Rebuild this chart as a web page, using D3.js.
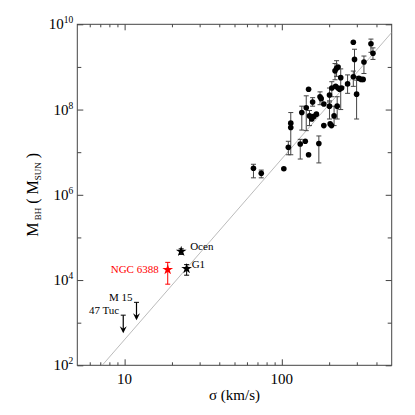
<!DOCTYPE html>
<html>
<head>
<meta charset="utf-8">
<script src="https://cdn.jsdelivr.net/npm/d3@7"></script>
<style>
  body { margin: 0; background: #fff; }
</style>
</head>
<body>
<div id="chart"></div>
<script>
// galaxies: sigma (km/s), black hole mass (Msun), error bar low / high (null = none)
var galSigma = [66, 74, 103, 110, 114, 114, 131, 141, 148, 148, 134, 143, 150, 155, 160, 166, 157, 172, 175, 178,
    185, 185, 201, 201, 203, 207, 215, 208, 218, 223, 228, 220, 225, 228, 237, 233, 240, 262, 285, 290,
    285, 299, 309, 320, 329, 333, 369, 380];
var galMass = [4.2e6, 3.2e6, 4.1e6, 1.3e7, 4.8e7, 3.8e7, 1.55e7, 1.8e7, 8.7e6, 3.0e8, 8.5e7, 1.1e8, 7.1e7, 6.0e7, 6.9e7, 7.8e7, 1.5e8, 1.6e7, 2.0e8, 1.8e8,
    1.35e8, 4.2e7, 2.2e8, 1.2e8, 4.6e7, 4.2e7, 7.1e7, 3.2e8, 8.1e8, 9.3e8, 1.0e9, 3.5e8, 1.2e8, 3.2e8, 5.6e8, 3.0e8, 3.2e8, 4.0e8, 3.8e9, 1.5e9,
    5.9e8, 2.3e8, 5.4e8, 5.1e8, 5.1e8, 1.3e9, 3.5e9, 2.1e9];
var galErrLo = [2.5e6, 2.5e6, null, 8.7e6, 8.7e6, null, 6.9e6, null, null, null, 3.3e7, 3.2e7, 4.2e7, null, null, null, 1.2e8, 5.6e6, 1.3e8, null,
    null, null, 1.5e8, 6e7, null, null, 4.2e7, 2e8, 5e8, 6e8, null, null, 6e7, null, 1e8, null, null, 2.4e8, null, 6e8,
    3.5e8, 6e7, null, null, null, 7e8, 2.2e9, 1.5e9];
var galErrHi = [5.2e6, 3.8e6, null, 1.8e7, 8.5e7, null, 2.0e7, null, null, null, 1.2e8, 2.1e8, 9.5e7, null, null, null, 1.9e8, 2.4e7, 2.6e8, null,
    null, null, 3.2e8, 1.6e8, null, null, 1.2e8, 4.5e8, 1.2e9, 1.4e9, null, null, 2e8, null, 9e8, null, null, 6.5e8, null, 2.6e9,
    8e8, 4.9e8, null, null, null, 1.8e9, 4.5e9, 2.8e9];

// globular clusters shown as stars
var gcNames = ["Ocen", "G1", "NGC 6388"];
var gcSigma = [22.9, 24.8, 18.8];
var gcMass = [4.7e4, 1.85e4, 1.75e4];
var gcErrLo = [4.0e4, 1.3e4, 8.0e3];
var gcErrHi = [5.4e4, 2.3e4, 2.6e4];
var gcColor = ["black", "black", "red"];

// upper limits
var limNames = ["M 15", "47 Tuc"];
var limSigma = [11.9, 9.8];
var limMass = [3.0e3, 1.5e3];

// M-sigma fit: log M = a + b log(sigma/200)
var fitA = 8.12, fitB = 4.24;
var fitSigma = [5, 500];

var xMajor = [10, 100];
var xMinor = [6, 7, 8, 9, 20, 30, 40, 50, 60, 70, 80, 90, 200, 300, 400];
var yMajor = [1e2, 1e4, 1e6, 1e8, 1e10];
var yMinor = [1e3, 1e5, 1e7, 1e9];

var FONT = "'Liberation Serif', 'DejaVu Serif', serif";

var W = 415, H = 415;
var margin = { top: 24.3, right: 23.3, bottom: 49.7, left: 77.3 };
var width = W - margin.left - margin.right,
    height = H - margin.top - margin.bottom;

var svg = d3.select("#chart").append("svg")
    .attr("width", W)
    .attr("height", H)
    .attr("font-family", FONT)
    .style("font-family", FONT);

var defs = svg.append("defs");
defs.append("clipPath").attr("id", "clip")
    .append("rect").attr("width", width).attr("height", height);

var g = svg.append("g")
    .attr("transform", "translate(" + margin.left + "," + margin.top + ")");

var x = d3.scaleLog().domain([5, 500]).range([0, width]);
var y = d3.scaleLog().domain([1e2, 1e10]).range([height, 0]);

// ticks on all four sides, pointing in
function tickAxis(axis, vals, len) {
    return axis.tickValues(vals).tickSize(len).tickFormat("");
}
var axStroke = "#444";

g.append("g").attr("transform", "translate(0," + height + ")")
    .call(tickAxis(d3.axisBottom(x), xMajor, -6));
g.append("g").attr("transform", "translate(0," + height + ")")
    .call(tickAxis(d3.axisBottom(x), xMinor, -3));
g.append("g").call(tickAxis(d3.axisTop(x), xMajor, -6));
g.append("g").call(tickAxis(d3.axisTop(x), xMinor, -3));
g.append("g").call(tickAxis(d3.axisLeft(y), yMajor, -6));
g.append("g").call(tickAxis(d3.axisLeft(y), yMinor, -4));
g.append("g").attr("transform", "translate(" + width + ",0)")
    .call(tickAxis(d3.axisRight(y), yMajor, -6));
g.append("g").attr("transform", "translate(" + width + ",0)")
    .call(tickAxis(d3.axisRight(y), yMinor, -4));

g.selectAll(".domain").remove();
g.selectAll(".tick line").attr("stroke", axStroke);
g.selectAll(".tick text").remove();

g.append("rect")
    .attr("width", width).attr("height", height)
    .attr("fill", "none").attr("stroke", axStroke).attr("stroke-width", 1);

// x tick labels
g.selectAll(".xlab").data(xMajor).enter().append("text")
    .attr("x", function (d) { return x(d); })
    .attr("y", height + 19)
    .attr("text-anchor", "middle")
    .style("font-family", FONT)
    .style("font-size", "15px")
    .text(function (d) { return d; });

// y tick labels 10^n
var yl = g.selectAll(".ylab").data(yMajor).enter().append("text")
    .attr("x", -4)
    .attr("y", function (d) { return y(d) + 5; })
    .attr("text-anchor", "end")
    .style("font-family", FONT)
    .style("font-size", "15px");
yl.append("tspan").text("10");
yl.append("tspan").attr("dy", -6).style("font-size", "9.5px")
    .text(function (d) { return Math.round(Math.log10(d)); });

// axis titles
svg.append("text")
    .attr("x", margin.left + width / 2)
    .attr("y", 400)
    .attr("text-anchor", "middle")
    .style("font-family", FONT)
    .style("font-size", "15px")
    .text("σ (km/s)");

var yt = svg.append("text")
    .attr("transform", "translate(38," + (margin.top + height / 2) + ") rotate(-90)")
    .attr("text-anchor", "middle")
    .style("font-family", FONT)
    .style("font-size", "16px");
yt.append("tspan").text("M");
yt.append("tspan").attr("dy", 3).style("font-size", "9px").text(" BH");
yt.append("tspan").attr("dy", -3).text(" ( M");
yt.append("tspan").attr("dy", 3).style("font-size", "9px").text("SUN");
yt.append("tspan").attr("dy", -3).text(" )");

var plot = g.append("g").attr("clip-path", "url(#clip)");

// fit line
var fitLine = d3.line()
    .x(function (d) { return x(d); })
    .y(function (d) { return y(Math.pow(10, fitA + fitB * Math.log10(d / 200))); });
plot.append("path")
    .datum(fitSigma)
    .attr("d", fitLine)
    .attr("fill", "none")
    .attr("stroke", "#aaa")
    .attr("stroke-width", 0.8);

// galaxy error bars
var gal = galSigma.map(function (s, i) {
    return { s: s, m: galMass[i], lo: galErrLo[i], hi: galErrHi[i] };
});
var eb = plot.selectAll(".eb").data(gal.filter(function (d) { return d.lo != null; }))
    .enter().append("g").attr("stroke", "#444").attr("stroke-width", 1);
eb.append("line")
    .attr("x1", function (d) { return x(d.s); }).attr("x2", function (d) { return x(d.s); })
    .attr("y1", function (d) { return y(d.lo); }).attr("y2", function (d) { return y(d.hi); });
["lo", "hi"].forEach(function (k) {
    eb.append("line")
        .attr("x1", function (d) { return x(d.s) - 2.5; }).attr("x2", function (d) { return x(d.s) + 2.5; })
        .attr("y1", function (d) { return y(d[k]); }).attr("y2", function (d) { return y(d[k]); });
});

plot.selectAll(".gal").data(gal).enter().append("circle")
    .attr("cx", function (d) { return x(d.s); })
    .attr("cy", function (d) { return y(d.m); })
    .attr("r", 2.8)
    .attr("fill", "black");

// globular clusters
var gc = gcSigma.map(function (s, i) {
    return { name: gcNames[i], s: s, m: gcMass[i], lo: gcErrLo[i], hi: gcErrHi[i], c: gcColor[i] };
});
var gce = plot.selectAll(".gce").data(gc).enter().append("g")
    .attr("stroke", function (d) { return d.c; }).attr("stroke-width", 1);
gce.append("line")
    .attr("x1", function (d) { return x(d.s); }).attr("x2", function (d) { return x(d.s); })
    .attr("y1", function (d) { return y(d.lo); }).attr("y2", function (d) { return y(d.hi); });
["lo", "hi"].forEach(function (k) {
    gce.append("line")
        .attr("x1", function (d) { return x(d.s) - 2.5; }).attr("x2", function (d) { return x(d.s) + 2.5; })
        .attr("y1", function (d) { return y(d[k]); }).attr("y2", function (d) { return y(d[k]); });
});
var star = d3.symbol().type(d3.symbolStar).size(36);
plot.selectAll(".gcs").data(gc).enter().append("path")
    .attr("d", star)
    .attr("transform", function (d) { return "translate(" + x(d.s) + "," + y(d.m) + ")"; })
    .attr("fill", function (d) { return d.c; });

// labels for clusters
g.append("text").attr("x", x(gcSigma[0]) + 9).attr("y", y(gcMass[0]) - 1)
    .style("font-family", FONT).style("font-size", "11px").text(gcNames[0]);
g.append("text").attr("x", x(gcSigma[1]) + 5).attr("y", y(gcMass[1]) - 1)
    .style("font-family", FONT).style("font-size", "11px").text(gcNames[1]);
g.append("text").attr("x", x(gcSigma[2]) - 9).attr("y", y(gcMass[2]) + 3)
    .attr("text-anchor", "end").attr("fill", "red")
    .style("font-family", FONT).style("font-size", "11px").text(gcNames[2]);

// upper limits: cap, shaft and arrow head
var lim = limSigma.map(function (s, i) { return { name: limNames[i], s: s, m: limMass[i] }; });
var arrowLen = 18;
var la = g.selectAll(".lim").data(lim).enter().append("g");
la.append("line")
    .attr("x1", function (d) { return x(d.s) - 2.5; }).attr("x2", function (d) { return x(d.s) + 2.5; })
    .attr("y1", function (d) { return y(d.m); }).attr("y2", function (d) { return y(d.m); })
    .attr("stroke", "black");
la.append("line")
    .attr("x1", function (d) { return x(d.s); }).attr("x2", function (d) { return x(d.s); })
    .attr("y1", function (d) { return y(d.m); }).attr("y2", function (d) { return y(d.m) + arrowLen - 2; })
    .attr("stroke", "black").attr("stroke-width", 1.2);
la.append("path")
    .attr("d", function (d) {
        var cx = x(d.s), ty = y(d.m) + arrowLen;
        return "M" + cx + "," + ty + "L" + (cx - 3.5) + "," + (ty - 7) + "L" + cx + "," + (ty - 4.5) +
            "L" + (cx + 3.5) + "," + (ty - 7) + "Z";
    })
    .attr("fill", "black");
la.append("text")
    .attr("x", function (d) { return x(d.s) - 4; })
    .attr("y", function (d) { return y(d.m) - 1; })
    .attr("text-anchor", "end")
    .style("font-family", FONT)
    .style("font-size", "11px")
    .text(function (d) { return d.name; });
</script>
</body>
</html>
